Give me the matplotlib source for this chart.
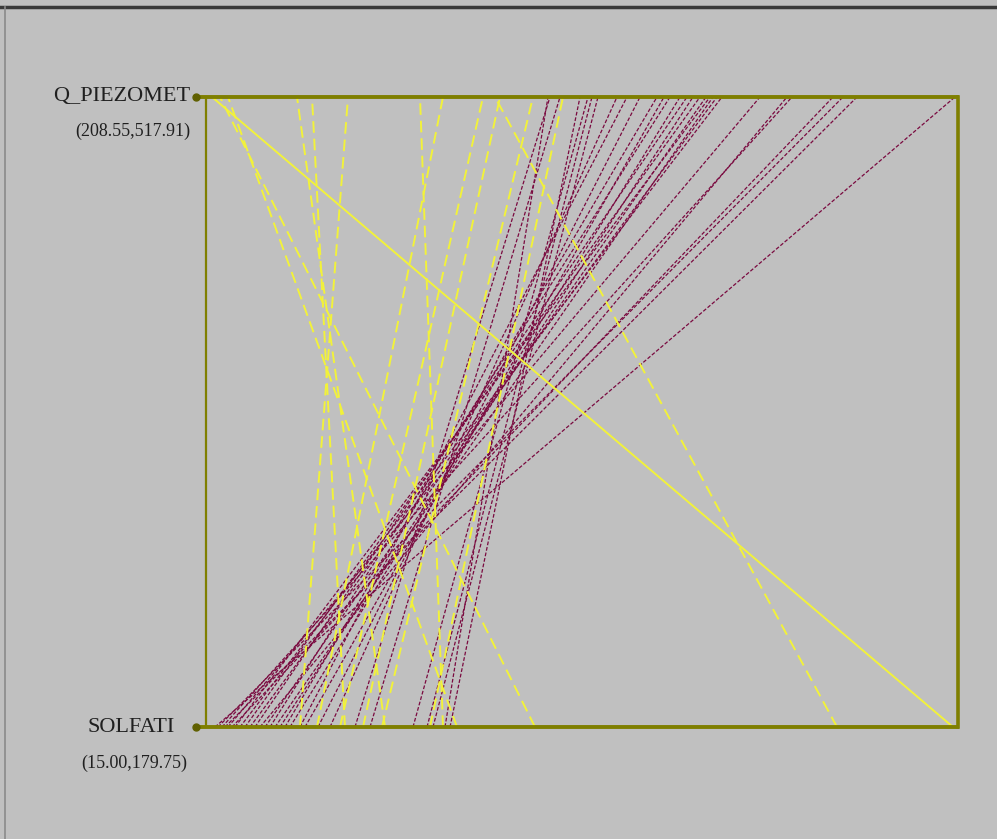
import matplotlib
matplotlib.use("Agg")
import matplotlib.pyplot as plt
from matplotlib.lines import Line2D

# axis ranges
TOP_NAME, TOP_RANGE = "Q_PIEZOMET", (208.55, 517.91)
BOT_NAME, BOT_RANGE = "SOLFATI", (15.00, 179.75)

# yellow group: Q_PIEZOMET value -> SOLFATI value
yel_top = [211.02, 214.31, 217.60, 245.99, 252.16, 266.97, 296.59,
           306.05, 322.50, 327.44, 329.50, 343.07, 355.41]
yel_bot = [178.65, 87.08, 69.99, 54.22, 45.45, 35.59, 66.92,
           39.32, 44.36, 153.24, 49.40, 53.56, 64.07]
yel_solid = [True, False, False, False, False, False, False,
             False, False, False, False, False, False]

# maroon group
mar_top = [350.06, 354.18, 365.70, 367.34, 369.81, 349.24, 362.41, 377.63,
           381.74, 387.09, 394.08, 396.96, 399.43, 403.55, 406.42, 408.89,
           411.77, 414.24, 415.89, 417.12, 418.77, 420.82, 436.45, 447.56,
           449.62, 466.49, 470.60, 476.36, 516.67]
mar_bot = [47.64, 50.93, 60.35, 63.42, 64.73, 67.36, 68.46, 42.17,
           35.59, 39.54, 32.31, 36.69, 29.02, 33.40, 25.73, 31.21,
           23.54, 27.93, 21.35, 30.12, 24.64, 22.45, 19.82, 26.83,
           18.51, 20.70, 17.63, 19.16, 16.97]

BG = "#c0c0c0"
OLIVE = "#7f7f00"
YELLOW = "#f2f23a"
MAROON = "#7a0a40"


def norm(v, rng):
    return (v - rng[0]) / (rng[1] - rng[0])


fig = plt.figure(figsize=(9.97, 8.39), dpi=100, facecolor=BG)
ax = fig.add_axes([206 / 997, 112 / 839, 752 / 997, 630 / 839])
ax.set_facecolor(BG)
ax.set_xlim(0, 1)
ax.set_ylim(0, 1)
ax.set_xticks([])
ax.set_yticks([])

# maroon polylines
for t, b in zip(mar_top, mar_bot):
    ax.plot([norm(b, BOT_RANGE), norm(t, TOP_RANGE)], [0, 1], color=MAROON,
            lw=0.9, ls=(0, (3, 1.5)), zorder=2)

# yellow polylines
for t, b, s in zip(yel_top, yel_bot, yel_solid):
    ax.plot([norm(b, BOT_RANGE), norm(t, TOP_RANGE)], [0, 1], color=YELLOW,
            lw=1.4, ls="-" if s else (0, (6, 3)), zorder=3)

# frame: verticals as spines, the two coordinate axes drawn thicker
for side in ["left", "right"]:
    ax.spines[side].set_color(OLIVE)
    ax.spines[side].set_linewidth(1.6)
ax.spines["right"].set_linewidth(2.6)
for side in ["top", "bottom"]:
    ax.spines[side].set_visible(False)
for y in (0, 1):
    ax.plot([-0.013, 1.0015], [y, y], color=OLIVE, lw=2.8,
            solid_capstyle="butt", clip_on=False, zorder=4)
    ax.plot([-0.013], [y], marker="o", ms=5, color="#606000",
            clip_on=False, zorder=5)

font = dict(family=["Liberation Serif", "DejaVu Serif"], color="#202020")
ax.text(-0.021, 1.0, TOP_NAME, ha="right", va="center", fontsize=16,
        transform=ax.transAxes, **font)
ax.text(-0.021, 0.946, f"({TOP_RANGE[0]:.2f},{TOP_RANGE[1]:.2f})",
        ha="right", va="center", fontsize=13, transform=ax.transAxes, **font)
ax.text(-0.041, 0.0, BOT_NAME, ha="right", va="center", fontsize=16,
        transform=ax.transAxes, **font)
ax.text(-0.025, -0.057, f"({BOT_RANGE[0]:.2f},{BOT_RANGE[1]:.2f})",
        ha="right", va="center", fontsize=13, transform=ax.transAxes, **font)

# window border
fig.add_artist(Line2D([0, 1], [1 - 6.5 / 839] * 2, color="#3a3a3a",
                      lw=2.5, transform=fig.transFigure))
fig.add_artist(Line2D([4.5 / 997] * 2, [0, 1 - 6.5 / 839], color="#8a8a8a",
                      lw=1.2, transform=fig.transFigure))

fig.savefig("out.png", dpi=100, facecolor=BG)
